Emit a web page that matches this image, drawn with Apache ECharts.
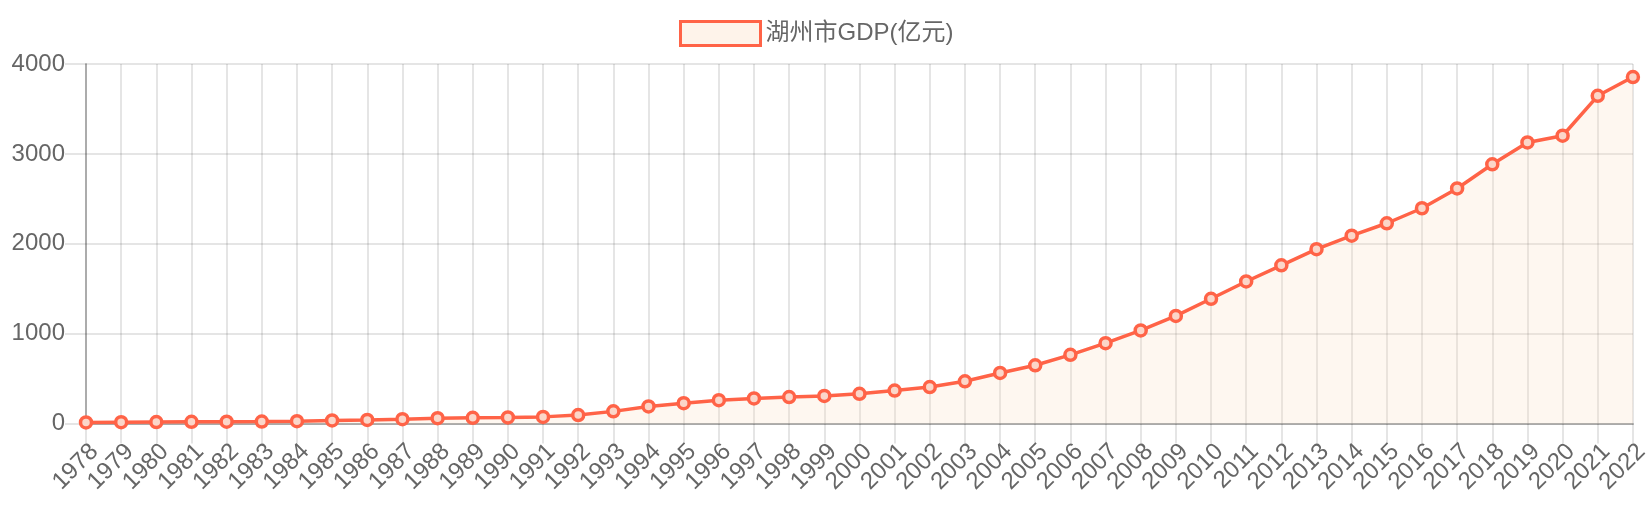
<!DOCTYPE html>
<html><head><meta charset="utf-8">
<script src="https://cdn.jsdelivr.net/npm/echarts@6/dist/echarts.min.js"></script>
<style>html,body{margin:0;padding:0;background:#fff}#c{width:1652px;height:520px}</style>
</head><body><div id="c"></div>
<script>
const years = ['1978','1979','1980','1981','1982','1983','1984','1985','1986','1987','1988','1989','1990','1991','1992','1993','1994','1995','1996','1997','1998','1999','2000','2001','2002','2003','2004','2005','2006','2007','2008','2009','2010','2011','2012','2013','2014','2015','2016','2017','2018','2019','2020','2021','2022'];
const gdp = [11.5,14.2,16.6,18.9,20.6,21.4,25.5,34.2,39.5,47.6,59.7,63.5,67.3,73.7,93.4,135,190,226,259,279,294,306,330,366,405,470,562,648,764,894,1036,1197,1388,1580,1760,1940,2090,2228,2395,2615,2884,3127,3202,3646,3855];
const yTicks = [0,1000,2000,3000,4000];
const seriesName = '湖州市GDP(亿元)';
const FONT = '"Liberation Sans","Noto Sans CJK SC",Arial,sans-serif';
const chart = echarts.init(document.getElementById('c'), null, {renderer:'canvas'});
chart.setOption({
  animation:false,
  legend:{
    data:[seriesName], top:15, left:674, icon:'rect', itemWidth:80, itemHeight:24, itemGap:12,
    textStyle:{fontSize:24, color:'#666', fontFamily:FONT},
    itemStyle:{color:'#fef3ea', borderColor:'#ff6347', borderWidth:3}
  },
  grid:{left:86, right:15, top:64, bottom:96.5, containLabel:false},
  xAxis:{
    type:'category', data:years, boundaryGap:false,
    axisLine:{lineStyle:{color:'#aaa', width:2}},
    axisTick:{show:true, length:20, alignWithLabel:true, lineStyle:{color:'rgba(0,0,0,0.1)', width:2}},
    splitLine:{show:true, lineStyle:{color:'rgba(0,0,0,0.1)', width:2}},
    axisLabel:{interval:0, rotate:45, margin:16, align:'right', verticalAlign:'top', fontSize:24, color:'#666', fontFamily:FONT}
  },
  yAxis:{
    type:'value', min:yTicks[0], max:yTicks[yTicks.length-1], interval:1000,
    axisLine:{show:true, lineStyle:{color:'rgba(0,0,0,0.25)', width:2}},
    axisTick:{show:true, length:21, lineStyle:{color:'rgba(0,0,0,0.1)', width:2}},
    splitLine:{show:true, lineStyle:{color:'rgba(0,0,0,0.1)', width:2}},
    axisLabel:{margin:21, fontSize:24, color:'#666', fontFamily:FONT, formatter:function(v){return String(v);}}
  },
  series:[{
    name:seriesName, type:'line', data:gdp,
    symbol:'circle', symbolSize:11,
    lineStyle:{color:'#ff6347', width:3.5},
    itemStyle:{color:'#fbd6c9', borderColor:'#ff6347', borderWidth:3.5},
    areaStyle:{color:'rgba(250,215,185,0.3)'}
  }]
});
</script></body></html>
